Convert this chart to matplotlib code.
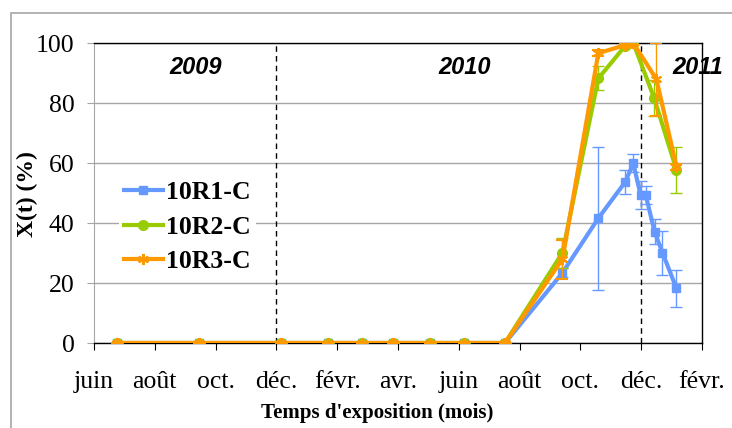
import matplotlib
matplotlib.use('Agg')
import matplotlib.pyplot as plt
from matplotlib.patches import Rectangle

plt.rcParams['font.family'] = 'Liberation Serif'

# x = months since 1 June 2009
month_labels = ['juin', 'août', 'oct.', 'déc.', 'févr.', 'avr.', 'juin',
                'août', 'oct.', 'déc.', 'févr.']
zero_x = [0.77, 3.45, 6.16, 7.70, 8.83, 9.85, 11.05, 12.17, 13.52]

r1_x = zero_x + [15.41, 16.59, 17.47, 17.74, 17.98, 18.15, 18.44, 18.70, 19.16]
r1_y = [0] * 9 + [23.4, 41.6, 53.6, 59.9, 49.3, 49.3, 37.1, 30.1, 18.2]
r1_err = [0] * 9 + [1.5, 23.8, 4.0, 3.0, 4.7, 3.0, 4.2, 7.3, 6.2]

r2_x = zero_x + [15.41, 16.59, 17.47, 17.74, 18.42, 19.16]
r2_y = [0] * 9 + [30.1, 88.2, 99.0, 100.0, 81.8, 57.7]
r2_err = [0] * 9 + [5.0, 4.0, 0.5, 0.5, 6.0, 7.6]

r3_x = zero_x + [15.41, 16.59, 17.47, 17.74, 18.50, 19.16]
r3_y = [0] * 9 + [28.0, 96.6, 99.3, 100.0, 87.9, 58.8]
r3_err = [0] * 9 + [6.5, 1.0, 0.5, 0.5, 12.2, 1.0]

years = ['2009', '2010', '2011']
year_x = [3.35, 12.2, 19.86]

fig = plt.figure(figsize=(7.32, 4.28), dpi=100)
ax = fig.add_axes([94/732, 85/428, 608/732, 300/428])

# outer chart border
fig.patches.append(Rectangle((11/732, -0.1), 1.1, (428-13)/428 + 0.1,
                             transform=fig.transFigure, fill=False,
                             edgecolor='#a6a6a6', linewidth=1.2, zorder=0))

blue = '#6699ff'
green = '#99cc00'
orange = '#ff9900'

ax.errorbar(r1_x, r1_y, yerr=r1_err, color=blue, lw=3, marker='s', ms=6,
            ecolor=blue, elinewidth=1, capsize=4, capthick=1, label='10R1-C',
            zorder=3)
ax.errorbar(r2_x, r2_y, yerr=r2_err, color=green, lw=3, marker='o', ms=7,
            ecolor=green, elinewidth=1, capsize=4, capthick=1, label='10R2-C',
            zorder=4)
ax.errorbar(r3_x, r3_y, yerr=r3_err, color=orange, lw=3, marker=(6, 2, 0),
            ms=8, mew=1.5, ecolor=orange, elinewidth=1, capsize=4, capthick=1,
            label='10R3-C', zorder=5)

ax.axvline(6, color='black', ls=(0, (4, 3)), lw=1, zorder=2)
ax.axvline(18, color='black', ls=(0, (4, 3)), lw=1, zorder=2)

for yr, xx in zip(years, year_x):
    ax.text(xx, 92, yr, ha='center', va='center', fontsize=17,
            fontweight='bold', fontstyle='italic', family='Liberation Sans',
            clip_on=False, zorder=6)

ax.set_xlim(0, 20)
ax.set_ylim(0, 100)
ax.set_xticks(range(0, 21, 2))
ax.set_xticklabels(month_labels)
ax.set_yticks(range(0, 101, 20))
ax.tick_params(axis='both', labelsize=18.5, direction='out', length=5)
ax.tick_params(axis='y', pad=9, color='#a6a6a6')
ax.tick_params(axis='x', pad=15)
ax.yaxis.grid(True, color='#a6a6a6', lw=1)
ax.set_axisbelow(True)
ax.spines['left'].set_color('#a6a6a6')
for s in ['top', 'right', 'bottom']:
    ax.spines[s].set_color('black')
    ax.spines[s].set_linewidth(1)

fig.text(27/732, 1 - 194/428, 'X(t) (%)', rotation=90, ha='center',
         va='center', fontsize=17, fontweight='bold')
fig.text(377/732, 1 - 413/428, "Temps d'exposition (mois)", ha='center',
         va='center', fontsize=15, fontweight='bold')

handles, labels = ax.get_legend_handles_labels()
handles = [h[0] for h in handles]
leg = ax.legend(handles, labels, loc='upper left',
                bbox_to_anchor=(12/608, (343-163)/300),
                prop={'family': 'Liberation Serif', 'weight': 'bold',
                      'size': 18.5},
                handlelength=1.5, handletextpad=0.15, labelspacing=0.45,
                frameon=True, facecolor='white', edgecolor='none',
                framealpha=1, borderpad=0.2)

fig.savefig('out.png', dpi=100)
